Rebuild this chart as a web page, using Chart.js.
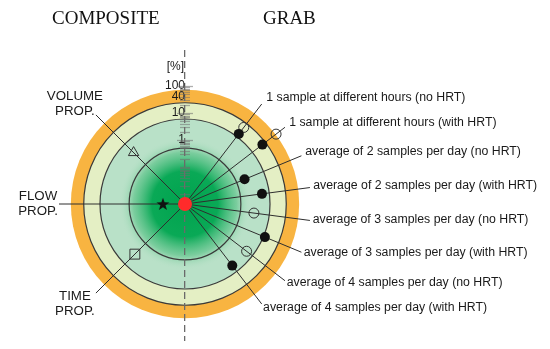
<!DOCTYPE html>
<html>
<head>
<meta charset="utf-8">
<script src="https://cdn.jsdelivr.net/npm/chart.js@4.4.0/dist/chart.umd.min.js"></script>
<style>
  html, body { margin: 0; padding: 0; background: #fff; }
  #wrap { width: 550px; height: 349px; }
</style>
</head>
<body>
<div id="wrap"><canvas id="myChart" width="550" height="349"></canvas></div>
<script>
// radial axis values in [%] (log scale)
const tickLabels = [100, 40, 10, 1];
const ringPct = [0.5, 6, 24, 72];

// GRAB spokes (right side)
const grabLabels = [
  '1 sample at different hours (no HRT)',
  '1 sample at different hours (with HRT)',
  'average of 2 samples per day (no HRT)',
  'average of 2 samples per day (with HRT)',
  'average of 3 samples per day (no HRT)',
  'average of 3 samples per day (with HRT)',
  'average of 4 samples per day (no HRT)',
  'average of 4 samples per day (with HRT)'
];
const grabAngles = [52.5, 37.5, 22.5, 7.5, -7.5, -22.5, -37.5, -52.5];
const grabFilled = [8, 17.5, 1.04, 3.2, null, 6.8, null, 3.2];
const grabHollow = [16, 76, null, null, 1.6, null, 3.2, null];

// COMPOSITE spokes (left side)
const compositeLabels = [['VOLUME', 'PROP.'], ['FLOW', 'PROP.'], ['TIME', 'PROP.']];
const compositeAngles = [135, 180, 225];
const compositeValues = [2.1, 0.028, 1.8];

// log10(%) -> radius in axis units (1 unit = 1 px)
const R = p => 64 + 27 * Math.log10(p);
const SPOKE = 126;
const CX = 185, CY = 204; // where the centre should sit on the canvas
const polar = (deg, r) => ({ x: r * Math.cos(deg * Math.PI / 180), y: r * Math.sin(deg * Math.PI / 180) });

// minor log ticks 0.01 .. 100
const axisTicks = [];
for (let k = -2; k <= 1; k++) {
  for (let m = 1; m <= 9; m++) axisTicks.push(+(m * Math.pow(10, k)).toPrecision(2));
}
axisTicks.push(100);

const SANS = "'Liberation Sans', Arial, sans-serif";

// filled star used as point style
const star = document.createElement('canvas');
star.width = 14; star.height = 14;
(function () {
  const c = star.getContext('2d');
  c.beginPath();
  for (let i = 0; i < 10; i++) {
    const r = i % 2 ? 2.7 : 6.8;
    const a = -Math.PI / 2 + i * Math.PI / 5;
    c.lineTo(7 + r * Math.cos(a), 7.5 + r * Math.sin(a));
  }
  c.closePath();
  c.fillStyle = '#111';
  c.fill();
})();

const ringsPlugin = {
  id: 'rings',
  beforeDraw(chart) {
    const { ctx, scales: { x, y } } = chart;
    const cx = x.getPixelForValue(0), cy = y.getPixelForValue(0);
    const rad = p => x.getPixelForValue(R(p)) - cx;
    const disc = (r, fill) => {
      ctx.beginPath(); ctx.arc(cx, cy, r, 0, Math.PI * 2); ctx.fillStyle = fill; ctx.fill();
    };
    ctx.save();
    disc(rad(ringPct[3]), '#f8b441');
    disc(rad(ringPct[2]), '#e4efc4');
    disc(rad(ringPct[1]), '#b9e1c8');
    const g = ctx.createRadialGradient(cx, cy, 0, cx, cy, 66);
    g.addColorStop(0, 'rgba(0,163,78,1)');
    g.addColorStop(0.5, 'rgba(0,166,80,0.95)');
    g.addColorStop(0.78, 'rgba(70,188,122,0.55)');
    g.addColorStop(1, 'rgba(185,225,200,0)');
    disc(66, g);
    ctx.strokeStyle = '#3a3a3a';
    ctx.lineWidth = 1.2;
    ringPct.slice(0, 3).forEach(p => {
      ctx.beginPath(); ctx.arc(cx, cy, rad(p), 0, Math.PI * 2); ctx.stroke();
    });
    ctx.restore();
  },
  beforeDatasetsDraw(chart) {
    const { ctx, scales: { x, y } } = chart;
    const cx = x.getPixelForValue(0);
    ctx.save();
    ctx.strokeStyle = 'rgba(110,110,110,0.55)';
    ctx.lineWidth = 1.3;
    axisTicks.forEach(v => {
      const py = Math.round(y.getPixelForValue(R(v))) + 0.5;
      const w = [1, 10, 100].includes(v) ? 8 : 5;
      ctx.beginPath(); ctx.moveTo(cx - w, py); ctx.lineTo(cx + w, py); ctx.stroke();
    });
    ctx.restore();
  },
  afterDatasetsDraw(chart) {
    const { ctx, scales: { x, y } } = chart;
    const cx = x.getPixelForValue(0);
    ctx.save();
    ctx.fillStyle = '#1a1a1a';
    ctx.textBaseline = 'middle';
    ctx.font = '12.3px ' + SANS;
    ctx.textAlign = 'left';
    grabLabels.forEach((t, i) => {
      const e = polar(grabAngles[i], SPOKE);
      const s = Math.sin(grabAngles[i] * Math.PI / 180);
      ctx.fillText(t, x.getPixelForValue(e.x) + 3 + 2 * s, y.getPixelForValue(e.y) - 6 * s - 1.5);
    });
    ctx.font = '13.3px ' + SANS;
    ctx.textAlign = 'center';
    compositeLabels.forEach((lines, i) => {
      const e = polar(compositeAngles[i], SPOKE);
      const s = Math.sin(compositeAngles[i] * Math.PI / 180);
      const px = x.getPixelForValue(e.x) - 21;
      const py = y.getPixelForValue(e.y) - 15 * s;
      lines.forEach((l, j) => ctx.fillText(l, px, py + (j - 0.5) * 15));
    });
    ctx.textAlign = 'right';
    ctx.font = '12px ' + SANS;
    ctx.fillText('[%]', cx - 1, 67);
    ctx.textAlign = 'left';
    ctx.textBaseline = 'alphabetic';
    ctx.fillStyle = '#111';
    ctx.font = "19px 'Liberation Serif', 'Times New Roman', serif";
    ctx.fillText('COMPOSITE', 52, 24);
    ctx.fillText('GRAB', 263, 24);
    ctx.restore();
  }
};

const spokeSets = grabAngles.concat(compositeAngles).map(a => ({
  data: [{ x: 0, y: 0 }, polar(a, SPOKE)],
  showLine: true,
  borderColor: '#2e2e2e',
  borderWidth: 1,
  pointRadius: 0,
  order: 5
}));

const pts = (angles, vals) => angles
  .map((a, i) => vals[i] == null ? null : polar(a, R(vals[i])))
  .filter(p => p);

const ctx = document.getElementById('myChart');
const chart = new Chart(ctx, {
  type: 'scatter',
  data: {
    datasets: [
      { data: [{ x: 0, y: 0 }], pointRadius: 7, backgroundColor: '#ff2b2b', borderWidth: 0, order: 0 },
      { data: pts(grabAngles, grabFilled), pointRadius: 5, backgroundColor: '#111', borderWidth: 0, order: 1 },
      { data: pts(grabAngles, grabHollow), pointRadius: 5, backgroundColor: 'rgba(0,0,0,0)', borderColor: '#333', borderWidth: 1, order: 1 },
      { data: [polar(compositeAngles[0], R(compositeValues[0]))], pointStyle: 'triangle', pointRadius: 6, backgroundColor: 'rgba(0,0,0,0)', borderColor: '#333', borderWidth: 1, order: 1 },
      { data: [polar(compositeAngles[1], R(compositeValues[1]))], pointStyle: star, order: 1 },
      { data: [polar(compositeAngles[2], R(compositeValues[2]))], pointStyle: 'rect', pointRadius: 7, backgroundColor: 'rgba(0,0,0,0)', borderColor: '#333', borderWidth: 1, order: 1 },
      ...spokeSets
    ]
  },
  options: {
    responsive: false,
    animation: false,
    events: [],
    layout: { padding: { top: 50, left: 0, right: 0, bottom: -10 } },
    plugins: { legend: { display: false }, tooltip: { enabled: false } },
    scales: {
      x: {
        type: 'linear', min: -185, max: 365,
        ticks: { display: false },
        grid: { drawTicks: false, color: '#6a6a6a', lineWidth: 1.3 },
        border: { display: false, dash: [7, 4] },
        afterBuildTicks: scale => { scale.ticks = [{ value: 0 }]; }
      },
      y: {
        type: 'linear',
        min: -145,
        max: 154,
        position: { x: 0 },
        grid: { display: false, drawTicks: false },
        border: { display: false },
        afterBuildTicks: scale => {
          scale.ticks = axisTicks.map(v => ({ value: R(v), pct: v }));
        },
        ticks: {
          autoSkip: false,
          padding: 1,
          color: '#1a1a1a',
          font: { family: SANS, size: 12, lineHeight: 0.1 },
          callback: (value, i, ticks) => tickLabels.includes(ticks[i].pct) ? String(ticks[i].pct) : ''
        }
      }
    }
  },
  plugins: [ringsPlugin]
});

// keep 1 unit = 1 px with the centre at (CX, CY), whatever area the layout left
const ca = chart.chartArea;
chart.options.scales.x.min = ca.left - CX;
chart.options.scales.x.max = ca.right - CX;
chart.options.scales.y.min = CY - ca.bottom;
chart.options.scales.y.max = CY - ca.top;
chart.update();
</script>
</body>
</html>
